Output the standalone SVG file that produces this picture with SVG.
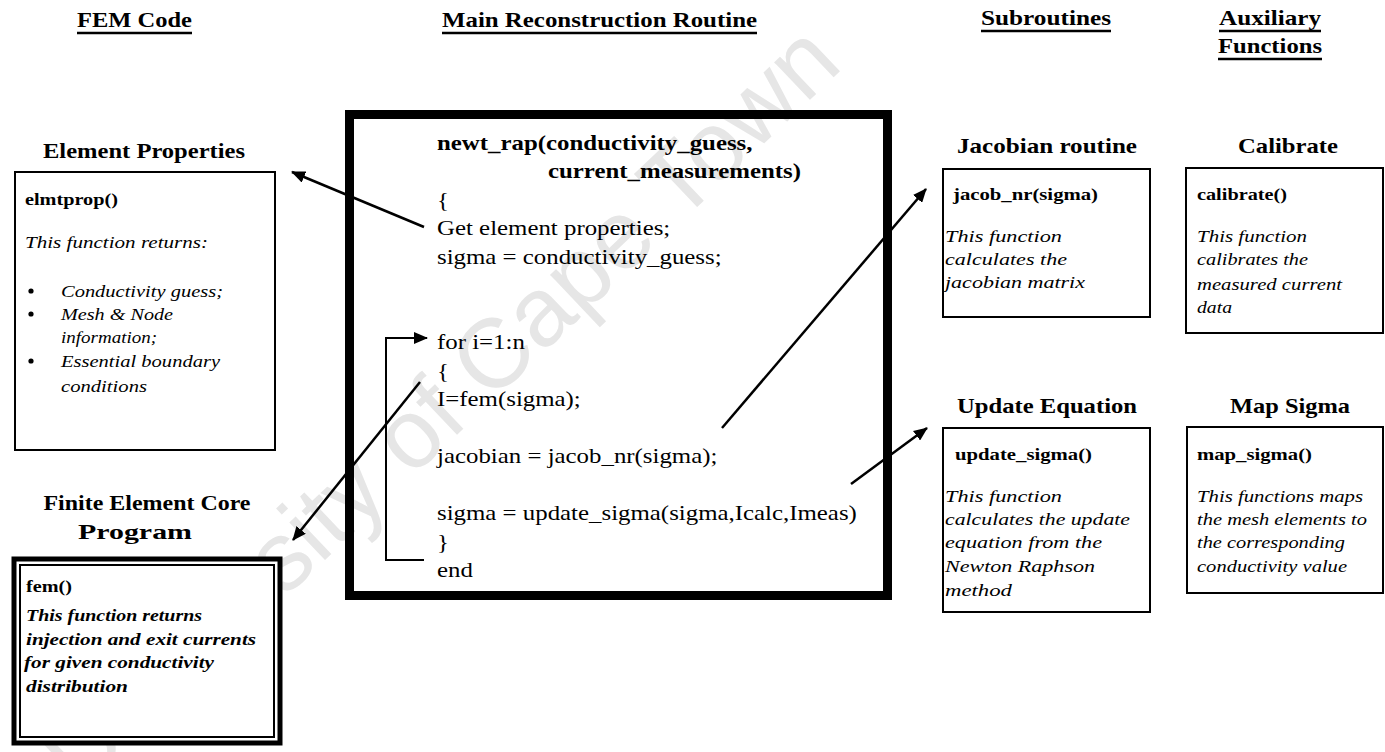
<svg xmlns="http://www.w3.org/2000/svg" width="1385" height="752" viewBox="0 0 1385 752">
<defs>
<marker id="ah" viewBox="0 0 14 12" refX="13" refY="6" markerWidth="14" markerHeight="12" markerUnits="userSpaceOnUse" orient="auto">
<path d="M0,0 L14,6 L0,12 Z" fill="#000"/>
</marker>
<style>
text{font-family:"Liberation Serif","Times New Roman",serif;fill:#000}
.hdr{font-size:22px;font-weight:bold}
.ttl{font-size:21px;font-weight:bold;text-anchor:middle}
.fn{font-size:16px;font-weight:bold}
.it{font-size:17px;font-style:italic}
.bi{font-size:16px;font-style:italic;font-weight:bold}
.code{font-size:22px}
.codeb{font-size:22px;font-weight:bold}
.box{fill:#fff;stroke:#000;stroke-width:2}
.ul{stroke:#000;stroke-width:2.5}
.con{fill:none;stroke:#000;stroke-width:2.5}
.wm{font-family:"Liberation Sans",Arial,sans-serif;font-size:98px;fill:#e6e6e6}
</style>
</defs>
<rect width="1385" height="752" fill="#fff"/>

<g id="watermark">
<text class="wm" transform="translate(462,430) rotate(-43.5)" text-anchor="middle">University of Cape Town</text>
</g>

<g id="headers">
<text class="hdr" x="77" y="27" textLength="115" lengthAdjust="spacingAndGlyphs">FEM Code</text>
<line class="ul" x1="77" y1="33" x2="192" y2="33"/>
<text class="hdr" x="442" y="27" textLength="315" lengthAdjust="spacingAndGlyphs">Main Reconstruction Routine</text>
<line class="ul" x1="442" y1="33" x2="757" y2="33"/>
<text class="hdr" x="981" y="25" textLength="130" lengthAdjust="spacingAndGlyphs">Subroutines</text>
<line class="ul" x1="981" y1="31" x2="1111" y2="31"/>
<text class="hdr" x="1219" y="25" textLength="102" lengthAdjust="spacingAndGlyphs">Auxiliary</text>
<line class="ul" x1="1219" y1="31" x2="1321" y2="31"/>
<text class="hdr" x="1218" y="53" textLength="104" lengthAdjust="spacingAndGlyphs">Functions</text>
<line class="ul" x1="1218" y1="59" x2="1322" y2="59"/>
</g>

<g id="element-properties">
<text class="ttl" x="144" y="158" textLength="202" lengthAdjust="spacingAndGlyphs">Element Properties</text>
<rect class="box" x="15" y="172" width="260" height="278"/>
<text class="fn" x="25" y="205" textLength="93" lengthAdjust="spacingAndGlyphs">elmtprop()</text>
<text class="it" x="25" y="248" textLength="183" lengthAdjust="spacingAndGlyphs">This function returns:</text>
<circle cx="31" cy="291" r="2.6"/>
<text class="it" x="61" y="297" textLength="162" lengthAdjust="spacingAndGlyphs">Conductivity guess;</text>
<circle cx="31" cy="314" r="2.6"/>
<text class="it" x="61" y="320" textLength="112" lengthAdjust="spacingAndGlyphs">Mesh &amp; Node</text>
<text class="it" x="61" y="343" textLength="96" lengthAdjust="spacingAndGlyphs">information;</text>
<circle cx="31" cy="361" r="2.6"/>
<text class="it" x="61" y="367" textLength="159" lengthAdjust="spacingAndGlyphs">Essential boundary</text>
<text class="it" x="61" y="392" textLength="86" lengthAdjust="spacingAndGlyphs">conditions</text>
</g>

<g id="fem-core">
<text class="ttl" x="147" y="510" textLength="207" lengthAdjust="spacingAndGlyphs">Finite Element Core</text>
<text class="ttl" x="135" y="539" textLength="114" lengthAdjust="spacingAndGlyphs">Program</text>
<rect x="14" y="559" width="266" height="184" fill="#fff" stroke="#000" stroke-width="5"/>
<rect x="20" y="565" width="254" height="172" fill="none" stroke="#000" stroke-width="2"/>
<text class="fn" x="26" y="592" textLength="46" lengthAdjust="spacingAndGlyphs">fem()</text>
<text class="bi" x="26" y="621" textLength="176" lengthAdjust="spacingAndGlyphs">This function returns</text>
<text class="bi" x="26" y="645" textLength="230" lengthAdjust="spacingAndGlyphs">injection and exit currents</text>
<text class="bi" x="24" y="668" textLength="190" lengthAdjust="spacingAndGlyphs">for given conductivity</text>
<text class="bi" x="26" y="692" textLength="102" lengthAdjust="spacingAndGlyphs">distribution</text>
</g>

<g id="main-routine">
<rect x="349.5" y="114.5" width="538" height="481" fill="none" stroke="#000" stroke-width="9"/>
<g transform="matrix(1.13,0,0,1,-56.81,0)">
<text class="codeb" x="437" y="150">newt_rap(conductivity_guess,</text>
<text class="codeb" x="535.2" y="178.5">current_measurements)</text>
<text class="code" x="437" y="207">{</text>
<text class="code" x="437" y="235.5">Get element properties;</text>
<text class="code" x="437" y="264">sigma = conductivity_guess;</text>
<text class="code" x="437" y="349.5">for i=1:n</text>
<text class="code" x="437" y="378">{</text>
<text class="code" x="437" y="406.5">I=fem(sigma);</text>
<text class="code" x="437" y="463.5">jacobian = jacob_nr(sigma);</text>
<text class="code" x="437" y="520.5">sigma = update_sigma(sigma,Icalc,Imeas)</text>
<text class="code" x="437" y="549">}</text>
<text class="code" x="437" y="577.5">end</text>
</g>
</g>

<g id="jacobian-routine">
<text class="ttl" x="1047" y="153" textLength="180" lengthAdjust="spacingAndGlyphs">Jacobian routine</text>
<rect class="box" x="943" y="169" width="207" height="148"/>
<text class="fn" x="953" y="200" textLength="145" lengthAdjust="spacingAndGlyphs">jacob_nr(sigma)</text>
<text class="it" x="945" y="242" textLength="117" lengthAdjust="spacingAndGlyphs">This function</text>
<text class="it" x="945" y="265" textLength="122" lengthAdjust="spacingAndGlyphs">calculates the</text>
<text class="it" x="945" y="288" textLength="140" lengthAdjust="spacingAndGlyphs">jacobian matrix</text>
</g>

<g id="calibrate">
<text class="ttl" x="1288" y="153" textLength="100" lengthAdjust="spacingAndGlyphs">Calibrate</text>
<rect class="box" x="1186" y="168" width="197" height="165"/>
<text class="fn" x="1197" y="200" textLength="90" lengthAdjust="spacingAndGlyphs">calibrate()</text>
<text class="it" x="1197" y="242" textLength="110" lengthAdjust="spacingAndGlyphs">This function</text>
<text class="it" x="1197" y="265" textLength="111" lengthAdjust="spacingAndGlyphs">calibrates the</text>
<text class="it" x="1197" y="290" textLength="145" lengthAdjust="spacingAndGlyphs">measured current</text>
<text class="it" x="1197" y="313" textLength="35" lengthAdjust="spacingAndGlyphs">data</text>
</g>

<g id="update-equation">
<text class="ttl" x="1047" y="413" textLength="180" lengthAdjust="spacingAndGlyphs">Update Equation</text>
<rect class="box" x="943" y="428" width="207" height="184"/>
<text class="fn" x="955" y="460" textLength="137" lengthAdjust="spacingAndGlyphs">update_sigma()</text>
<text class="it" x="945" y="502" textLength="117" lengthAdjust="spacingAndGlyphs">This function</text>
<text class="it" x="945" y="525" textLength="185" lengthAdjust="spacingAndGlyphs">calculates the update</text>
<text class="it" x="945" y="548" textLength="157" lengthAdjust="spacingAndGlyphs">equation from the</text>
<text class="it" x="945" y="572" textLength="150" lengthAdjust="spacingAndGlyphs">Newton Raphson</text>
<text class="it" x="945" y="596" textLength="67" lengthAdjust="spacingAndGlyphs">method</text>
</g>

<g id="map-sigma">
<text class="ttl" x="1290" y="413" textLength="120" lengthAdjust="spacingAndGlyphs">Map Sigma</text>
<rect class="box" x="1187" y="427" width="196" height="166"/>
<text class="fn" x="1197" y="460" textLength="115" lengthAdjust="spacingAndGlyphs">map_sigma()</text>
<text class="it" x="1197" y="502" textLength="166" lengthAdjust="spacingAndGlyphs">This functions maps</text>
<text class="it" x="1197" y="525" textLength="170" lengthAdjust="spacingAndGlyphs">the mesh elements to</text>
<text class="it" x="1197" y="548" textLength="148" lengthAdjust="spacingAndGlyphs">the corresponding</text>
<text class="it" x="1197" y="572" textLength="150" lengthAdjust="spacingAndGlyphs">conductivity value</text>
</g>

<g id="connectors">
<line class="con" x1="424" y1="227" x2="292" y2="172" marker-end="url(#ah)"/>
<line class="con" x1="420" y1="382" x2="293" y2="540" marker-end="url(#ah)"/>
<line class="con" x1="722" y1="428" x2="926" y2="189" marker-end="url(#ah)"/>
<line class="con" x1="851" y1="484" x2="927" y2="428" marker-end="url(#ah)"/>
<polyline class="con" style="stroke-width:2" points="424,560 386,560 386,338 427,338" marker-end="url(#ah)"/>
</g>
</svg>
